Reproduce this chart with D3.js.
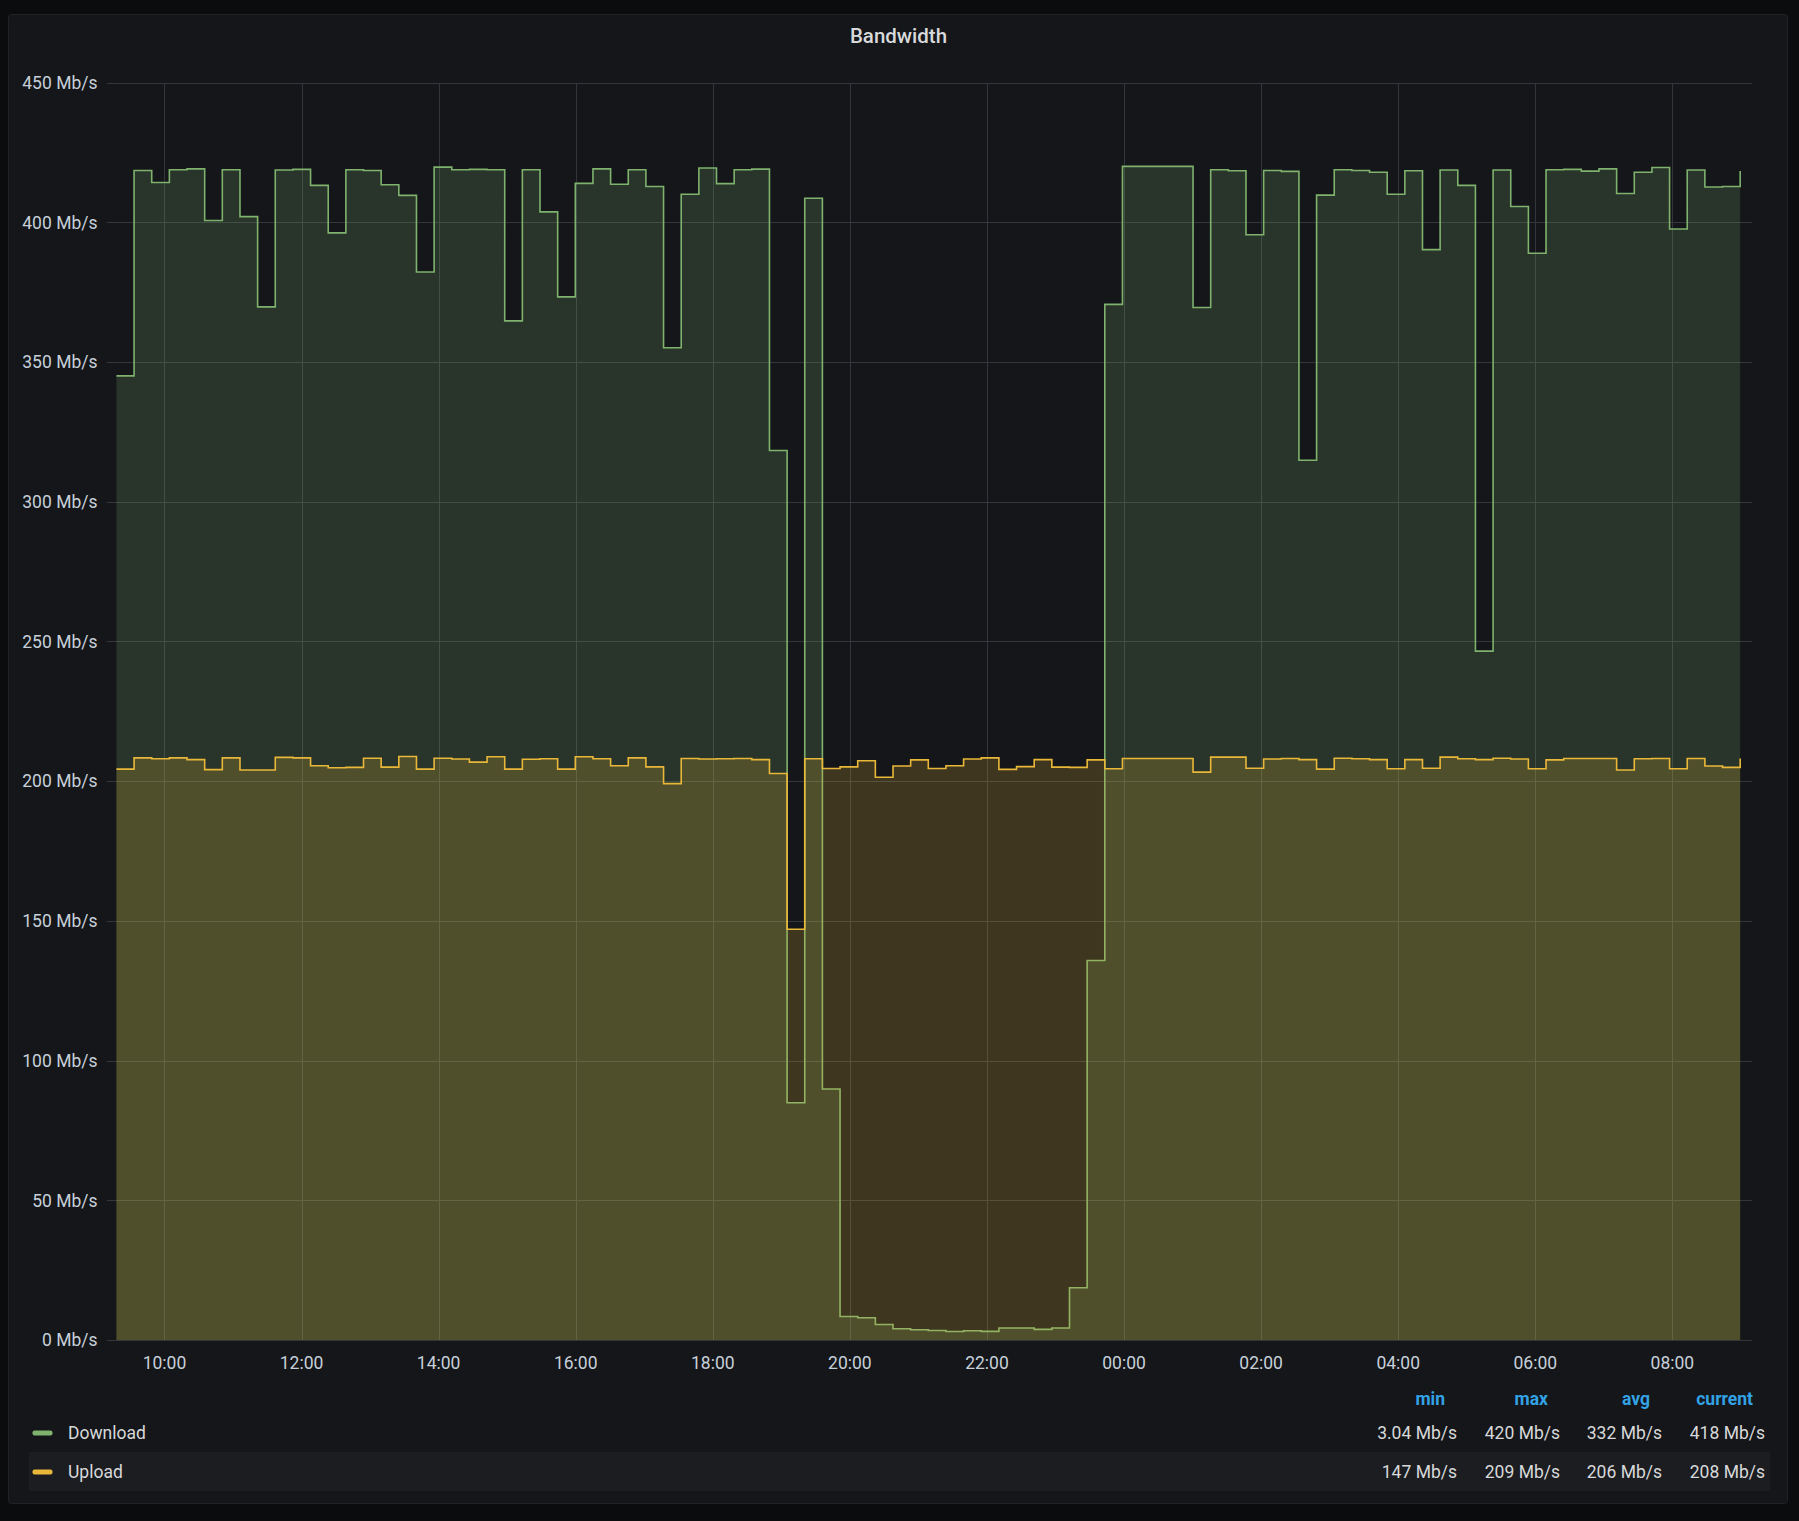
<!DOCTYPE html>
<html>
<head>
    <meta charset="utf-8">
    <title>Bandwidth</title>
    <script src="https://d3js.org/d3.v7.min.js"></script>
    <style>
        body {
            margin: 0;
            background-color: #0b0c0e;
            font-family: Roboto, "Noto Sans", sans-serif;
        }
        #chart {
            width: 1799px;
            height: 1521px;
        }
        .tick-label {
            fill: #c7d0d9;
            font-size: 17.5px;
        }
    </style>
</head>
<body>
    <div id="chart"></div>

    <script>
        // series, one sample every ~15.5 min starting 09:18
        const seriesNames = ["Download", "Upload"];
        const seriesColors = ["#7EB26D", "#EAB839"];

        const downloadValues = [
            345, 418.5, 414.2, 418.8, 419.1, 400.6, 418.8, 402.0, 369.7, 418.7,
            418.9, 413.2, 396.2, 418.8, 418.5, 413.4, 409.6, 382.2, 419.7, 418.8,
            418.9, 418.8, 364.7, 418.8, 403.7, 373.3, 413.9, 419.1, 413.6, 418.8,
            412.8, 355.1, 410.0, 419.4, 413.8, 418.8, 419.0, 318.3, 84.9, 408.6,
            89.8, 8.4, 7.95, 5.56, 4.0, 3.65, 3.4, 3.04, 3.3, 3.1,
            4.3, 4.3, 3.8, 4.3, 18.7, 135.8, 370.6, 420, 420, 420,
            420, 369.5, 418.8, 418.4, 395.5, 418.5, 418.2, 314.8, 409.7, 418.8,
            418.5, 417.9, 410.0, 418.4, 390.2, 418.7, 413.2, 246.5, 418.7, 405.6,
            388.9, 418.8, 418.9, 418.3, 419.1, 410.3, 417.9, 419.6, 397.6, 418.7,
            412.6, 412.8, 418.3
        ];

        const uploadValues = [
            204.3, 208.3, 208.0, 208.3, 207.7, 204.1, 208.3, 204.0, 204.0, 208.5,
            208.3, 205.5, 204.8, 204.9, 208.2, 205.0, 208.8, 204.3, 208.2, 207.9,
            206.8, 208.7, 204.3, 207.8, 208.0, 204.3, 208.7, 208.0, 205.5, 208.3,
            205.1, 199.1, 208.1, 207.9, 208.0, 208.1, 207.7, 202.7, 147.0, 208.0,
            204.5, 205.1, 207.3, 201.4, 205.4, 207.6, 204.5, 205.5, 207.9, 208.3,
            204.2, 205.2, 207.7, 205.0, 204.9, 207.6, 204.4, 208.1, 208.1, 208.1,
            208.1, 203.2, 208.6, 208.6, 204.6, 207.9, 208.1, 207.7, 204.3, 208.2,
            208.0, 207.7, 204.4, 207.7, 204.6, 208.6, 208.0, 207.7, 208.2, 207.9,
            204.4, 207.6, 208.1, 208.1, 208.1, 204.0, 208.0, 208.1, 204.4, 208.1,
            205.4, 204.9, 208.1
        ];

        // legend table as shown
        const statHeaders = ["min", "max", "avg", "current"];
        const downloadStats = ["3.04 Mb/s", "420 Mb/s", "332 Mb/s", "418 Mb/s"];
        const uploadStats = ["147 Mb/s", "209 Mb/s", "206 Mb/s", "208 Mb/s"];

        const yTickValues = [0, 50, 100, 150, 200, 250, 300, 350, 400, 450];

        const firstSample = new Date(2021, 2, 10, 9, 17, 55);
        const sampleStepMs = 927000;
        const rangeStart = new Date(2021, 2, 10, 9, 9, 40);
        const rangeEnd = new Date(rangeStart.getTime() + 24 * 3600 * 1000);

        const width = 1799;
        const height = 1521;
        const plot = { left: 107, right: 1752, top: 82.5, bottom: 1340 };

        const svg = d3.select("#chart")
            .append("svg")
            .attr("width", width)
            .attr("height", height);

        // panel
        svg.append("rect")
            .attr("x", 8.5)
            .attr("y", 14.5)
            .attr("width", 1779)
            .attr("height", 1489)
            .attr("rx", 3)
            .attr("fill", "#141619")
            .attr("stroke", "#202226");

        svg.append("text")
            .attr("x", 898.5)
            .attr("y", 36)
            .attr("dy", "0.36em")
            .attr("text-anchor", "middle")
            .attr("fill", "#d8d9da")
            .attr("font-size", "20.5px")
            .attr("font-weight", 500)
            .text("Bandwidth");

        const x = d3.scaleTime()
            .domain([rangeStart, rangeEnd])
            .range([plot.left, plot.right]);

        const y = d3.scaleLinear()
            .domain([0, 450])
            .range([plot.bottom, plot.top]);

        const xTicks = x.ticks(d3.timeHour.every(2));

        // grid
        const grid = svg.append("g")
            .attr("stroke", "#33363b")
            .attr("stroke-width", 1)
            .attr("shape-rendering", "crispEdges");

        grid.selectAll(".hgrid")
            .data(yTickValues)
            .join("line")
            .attr("class", "hgrid")
            .attr("x1", plot.left)
            .attr("x2", plot.right)
            .attr("y1", d => Math.round(y(d)) + 0.5)
            .attr("y2", d => Math.round(y(d)) + 0.5);

        grid.selectAll(".vgrid")
            .data(xTicks)
            .join("line")
            .attr("class", "vgrid")
            .attr("x1", d => Math.round(x(d)) + 0.5)
            .attr("x2", d => Math.round(x(d)) + 0.5)
            .attr("y1", plot.top)
            .attr("y2", plot.bottom);

        svg.append("g")
            .selectAll("text")
            .data(yTickValues)
            .join("text")
            .attr("class", "tick-label")
            .attr("x", 97.5)
            .attr("y", d => y(d))
            .attr("dy", "0.36em")
            .attr("text-anchor", "end")
            .text(d => d + " Mb/s");

        const timeFormat = d3.timeFormat("%H:%M");
        svg.append("g")
            .selectAll("text")
            .data(xTicks)
            .join("text")
            .attr("class", "tick-label")
            .attr("x", d => x(d))
            .attr("y", 1363)
            .attr("dy", "0.36em")
            .attr("text-anchor", "middle")
            .text(d => timeFormat(d));

        // series
        const sampleTime = i => new Date(firstSample.getTime() + i * sampleStepMs);

        const area = d3.area()
            .curve(d3.curveStepAfter)
            .x((d, i) => x(sampleTime(i)))
            .y0(y(0))
            .y1(d => y(d));

        const line = d3.line()
            .curve(d3.curveStepAfter)
            .x((d, i) => x(sampleTime(i)))
            .y(d => y(d));

        [downloadValues, uploadValues].forEach((values, k) => {
            svg.append("path")
                .datum(values)
                .attr("d", area)
                .attr("fill", seriesColors[k])
                .attr("fill-opacity", 0.2);

            svg.append("path")
                .datum(values)
                .attr("d", line)
                .attr("fill", "none")
                .attr("stroke", seriesColors[k])
                .attr("stroke-width", 1.6);
        });

        // legend
        const legendRows = [1433, 1472];
        const statRight = [1457, 1560, 1662, 1765];

        svg.append("rect")
            .attr("x", 29)
            .attr("y", 1452)
            .attr("width", 1741)
            .attr("height", 39)
            .attr("fill", "#1b1d21");

        svg.append("g")
            .selectAll("text")
            .data(statHeaders)
            .join("text")
            .attr("x", (d, i) => statRight[i] - 12)
            .attr("y", 1399)
            .attr("dy", "0.36em")
            .attr("text-anchor", "end")
            .attr("fill", "#33a2e5")
            .attr("font-size", "17.5px")
            .attr("font-weight", 700)
            .text(d => d);

        [downloadStats, uploadStats].forEach((stats, k) => {
            const row = svg.append("g");
            row.append("rect")
                .attr("x", 32.5)
                .attr("y", legendRows[k] - 2.5)
                .attr("width", 20)
                .attr("height", 5)
                .attr("rx", 2)
                .attr("fill", seriesColors[k]);

            row.append("text")
                .attr("x", 68)
                .attr("y", legendRows[k])
                .attr("dy", "0.36em")
                .attr("fill", "#d8d9da")
                .attr("font-size", "17.5px")
                .text(seriesNames[k]);

            row.selectAll(".stat")
                .data(stats)
                .join("text")
                .attr("class", "stat")
                .attr("x", (d, i) => statRight[i])
                .attr("y", legendRows[k])
                .attr("dy", "0.36em")
                .attr("text-anchor", "end")
                .attr("fill", "#d8d9da")
                .attr("font-size", "17.5px")
                .text(d => d);
        });
    </script>
</body>
</html>
